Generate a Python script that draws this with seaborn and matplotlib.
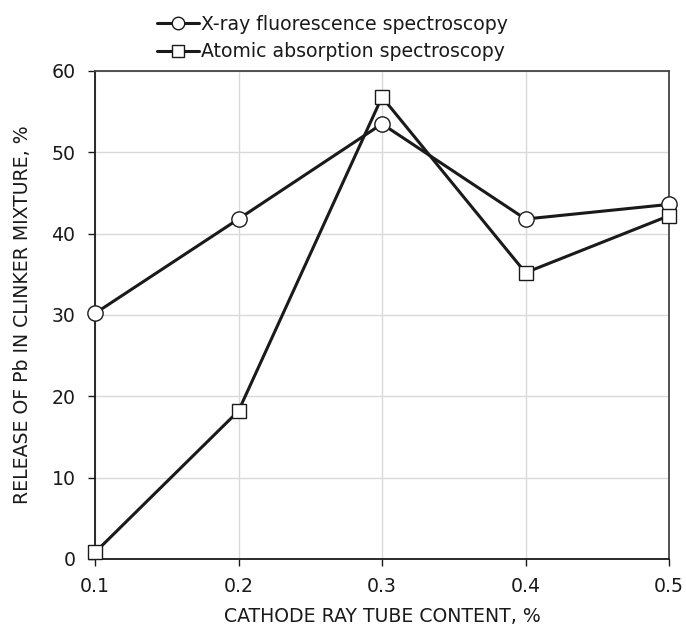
import matplotlib
matplotlib.use("Agg")
import matplotlib.pyplot as plt
from matplotlib.lines import Line2D
import pandas as pd
import seaborn as sns

# CRT content, % (x axis)
crt_content = [0.1, 0.2, 0.3, 0.4, 0.5]
# Pb release, % by method
xrf_release = [30.2, 41.8, 53.5, 41.8, 43.6]
aas_release = [0.8, 18.2, 56.8, 35.2, 42.2]
series_names = ["X-ray fluorescence spectroscopy", "Atomic absorption spectroscopy"]
x_ticks = [0.1, 0.2, 0.3, 0.4, 0.5]
y_ticks = [0, 10, 20, 30, 40, 50, 60]

sns.set_style("whitegrid")
plt.rcParams["font.family"] = ["DejaVu Sans"]

df = pd.DataFrame(
    {
        "x": crt_content * 2,
        "y": xrf_release + aas_release,
        "method": [series_names[0]] * 5 + [series_names[1]] * 5,
    }
)

ink = "#1a1a1a"
fsize = 13.6
fig = plt.figure(figsize=(6.86, 6.28), dpi=100)
ax = fig.add_axes([95 / 686, 1 - 559 / 628, 574 / 686, 488 / 628])

sns.lineplot(
    data=df, x="x", y="y", style="method", markers=["o", "s"], dashes=False,
    color=ink, linewidth=2.2, markersize=11, markerfacecolor="white",
    markeredgecolor=ink, markeredgewidth=1.0, ax=ax, clip_on=False,
    zorder=3, legend=False,
)
for line in ax.lines:
    if line.get_marker() == "s":
        line.set_markersize(9.5)

ax.set_xlim(0.1, 0.5)
ax.set_ylim(0, 60)
ax.set_xticks(x_ticks)
ax.set_xticklabels([f"{t:.1f}" for t in x_ticks])
ax.set_yticks(y_ticks)
ax.grid(True, color="#d9d9d9", linewidth=1.0)
for side in ["top", "right", "left", "bottom"]:
    ax.spines[side].set_visible(True)
    ax.spines[side].set_color(ink)
    ax.spines[side].set_linewidth(1.3)
ax.spines["top"].set_color("#444444")
ax.spines["right"].set_color("#444444")
ax.tick_params(axis="both", which="major", direction="out", length=5,
               width=1.0, color=ink, labelsize=fsize, labelcolor=ink,
               bottom=True, left=True)
ax.tick_params(axis="x", pad=8)
ax.tick_params(axis="y", pad=9)
ax.set_xlabel("CATHODE RAY TUBE CONTENT, %", fontsize=fsize, color=ink, labelpad=8)
ax.set_ylabel("RELEASE OF Pb IN CLINKER MIXTURE, %", fontsize=fsize, color=ink, labelpad=14)

handles = [
    Line2D([], [], color=ink, linewidth=2.2, marker=m, markersize=s,
           markerfacecolor="white", markeredgecolor=ink, markeredgewidth=1.0)
    for m, s in [("o", 9), ("s", 8.5)]
]
fig.legend(
    handles, series_names, loc="center left", bbox_to_anchor=(157 / 686, 1 - 38 / 628),
    frameon=False, fontsize=fsize, handlelength=2.2, handletextpad=0.15,
    labelspacing=0.45, borderpad=0, borderaxespad=0, labelcolor=ink,
)

fig.savefig("out.png", dpi=100)
plt.close(fig)
